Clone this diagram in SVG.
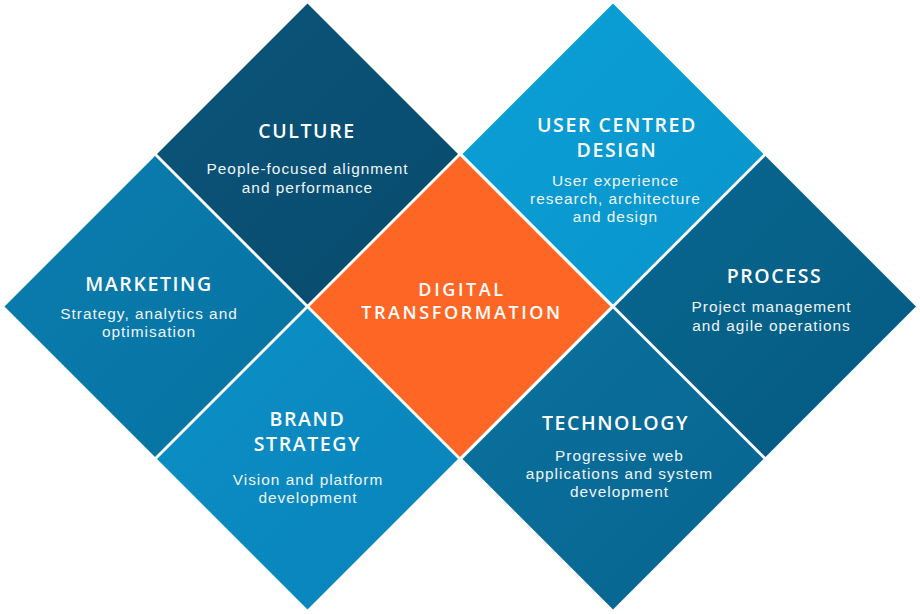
<svg xmlns="http://www.w3.org/2000/svg" xmlns:xlink="http://www.w3.org/1999/xlink" width="920" height="614" viewBox="0 0 920 614">
  <style>
    .t { font-family: "Open Sans", "Liberation Sans", sans-serif; font-size: 19.5px; font-weight: 600; fill: #ffffff; letter-spacing: 1.6px; text-anchor: middle; }
    .c { font-family: "Open Sans", "Liberation Sans", sans-serif; font-size: 18px; font-weight: 600; fill: #ffffff; letter-spacing: 2.6px; text-anchor: middle; }
    .s { font-family: "Liberation Sans", Arial, sans-serif; font-size: 15.4px; font-weight: 400; fill: #eef5f9; letter-spacing: 1px; text-anchor: middle; }
  </style>
  <defs>
    <path id="dia" d="M0,-150.5 L150.5,0 L0,150.5 L-150.5,0 Z"/>
    <linearGradient id="gCul" x1="0" y1="0" x2="1" y2="1"><stop offset="0" stop-color="#0b5579"/><stop offset="1" stop-color="#084b6e"/></linearGradient>
    <linearGradient id="gUcd" x1="0" y1="0" x2="1" y2="1"><stop offset="0" stop-color="#0ba0d6"/><stop offset="1" stop-color="#0894cb"/></linearGradient>
    <linearGradient id="gMkt" x1="0" y1="0" x2="1" y2="1"><stop offset="0" stop-color="#0a7eaf"/><stop offset="1" stop-color="#0772a1"/></linearGradient>
    <linearGradient id="gPro" x1="0" y1="0" x2="1" y2="1"><stop offset="0" stop-color="#08678f"/><stop offset="1" stop-color="#055a82"/></linearGradient>
    <linearGradient id="gBra" x1="0" y1="0" x2="1" y2="1"><stop offset="0" stop-color="#0c8fc5"/><stop offset="1" stop-color="#0884bb"/></linearGradient>
    <linearGradient id="gTec" x1="0" y1="0" x2="1" y2="1"><stop offset="0" stop-color="#0b729e"/><stop offset="1" stop-color="#07648f"/></linearGradient>
  </defs>
  <rect width="920" height="614" fill="#ffffff"/>

  <g id="culture">
    <use xlink:href="#dia" href="#dia" transform="translate(307.5,154)" fill="url(#gCul)"/>
    <text class="t" x="307" y="137.5">CULTURE</text>
    <text class="s" x="307.5" y="174">People-focused alignment</text>
    <text class="s" x="307.5" y="193">and performance</text>
  </g>

  <g id="user-centred-design">
    <use xlink:href="#dia" href="#dia" transform="translate(613,154)" fill="url(#gUcd)"/>
    <text class="t" x="617" y="132.3">USER CENTRED</text>
    <text class="t" x="617" y="156.8">DESIGN</text>
    <text class="s" x="615.5" y="186.3">User experience</text>
    <text class="s" x="615.5" y="204.3">research, architecture</text>
    <text class="s" x="615.5" y="222.3">and design</text>
  </g>

  <g id="marketing">
    <use xlink:href="#dia" href="#dia" transform="translate(155,306.5)" fill="url(#gMkt)"/>
    <text class="t" x="149" y="290.7">MARKETING</text>
    <text class="s" x="149" y="319">Strategy, analytics and</text>
    <text class="s" x="149" y="337">optimisation</text>
  </g>

  <g id="digital-transformation">
    <use xlink:href="#dia" href="#dia" transform="translate(460,306.5)" fill="#fd6624"/>
    <text class="c" x="462" y="295.8">DIGITAL</text>
    <text class="c" x="462" y="318.6">TRANSFORMATION</text>
  </g>

  <g id="process">
    <use xlink:href="#dia" href="#dia" transform="translate(765.5,306.5)" fill="url(#gPro)"/>
    <text class="t" x="774.5" y="282.7">PROCESS</text>
    <text class="s" x="771.5" y="312.3">Project management</text>
    <text class="s" x="771.5" y="331">and agile operations</text>
  </g>

  <g id="brand-strategy">
    <use xlink:href="#dia" href="#dia" transform="translate(307.5,459)" fill="url(#gBra)"/>
    <text class="t" x="307.5" y="426.2">BRAND</text>
    <text class="t" x="307.5" y="450.8">STRATEGY</text>
    <text class="s" x="308" y="485">Vision and platform</text>
    <text class="s" x="308" y="502.7">development</text>
  </g>

  <g id="technology">
    <use xlink:href="#dia" href="#dia" transform="translate(613,459)" fill="url(#gTec)"/>
    <text class="t" x="615.5" y="430">TECHNOLOGY</text>
    <text class="s" x="619.5" y="461">Progressive web</text>
    <text class="s" x="619.5" y="479.3">applications and system</text>
    <text class="s" x="619.5" y="497">development</text>
  </g>

  <g id="connectors"></g>
</svg>
